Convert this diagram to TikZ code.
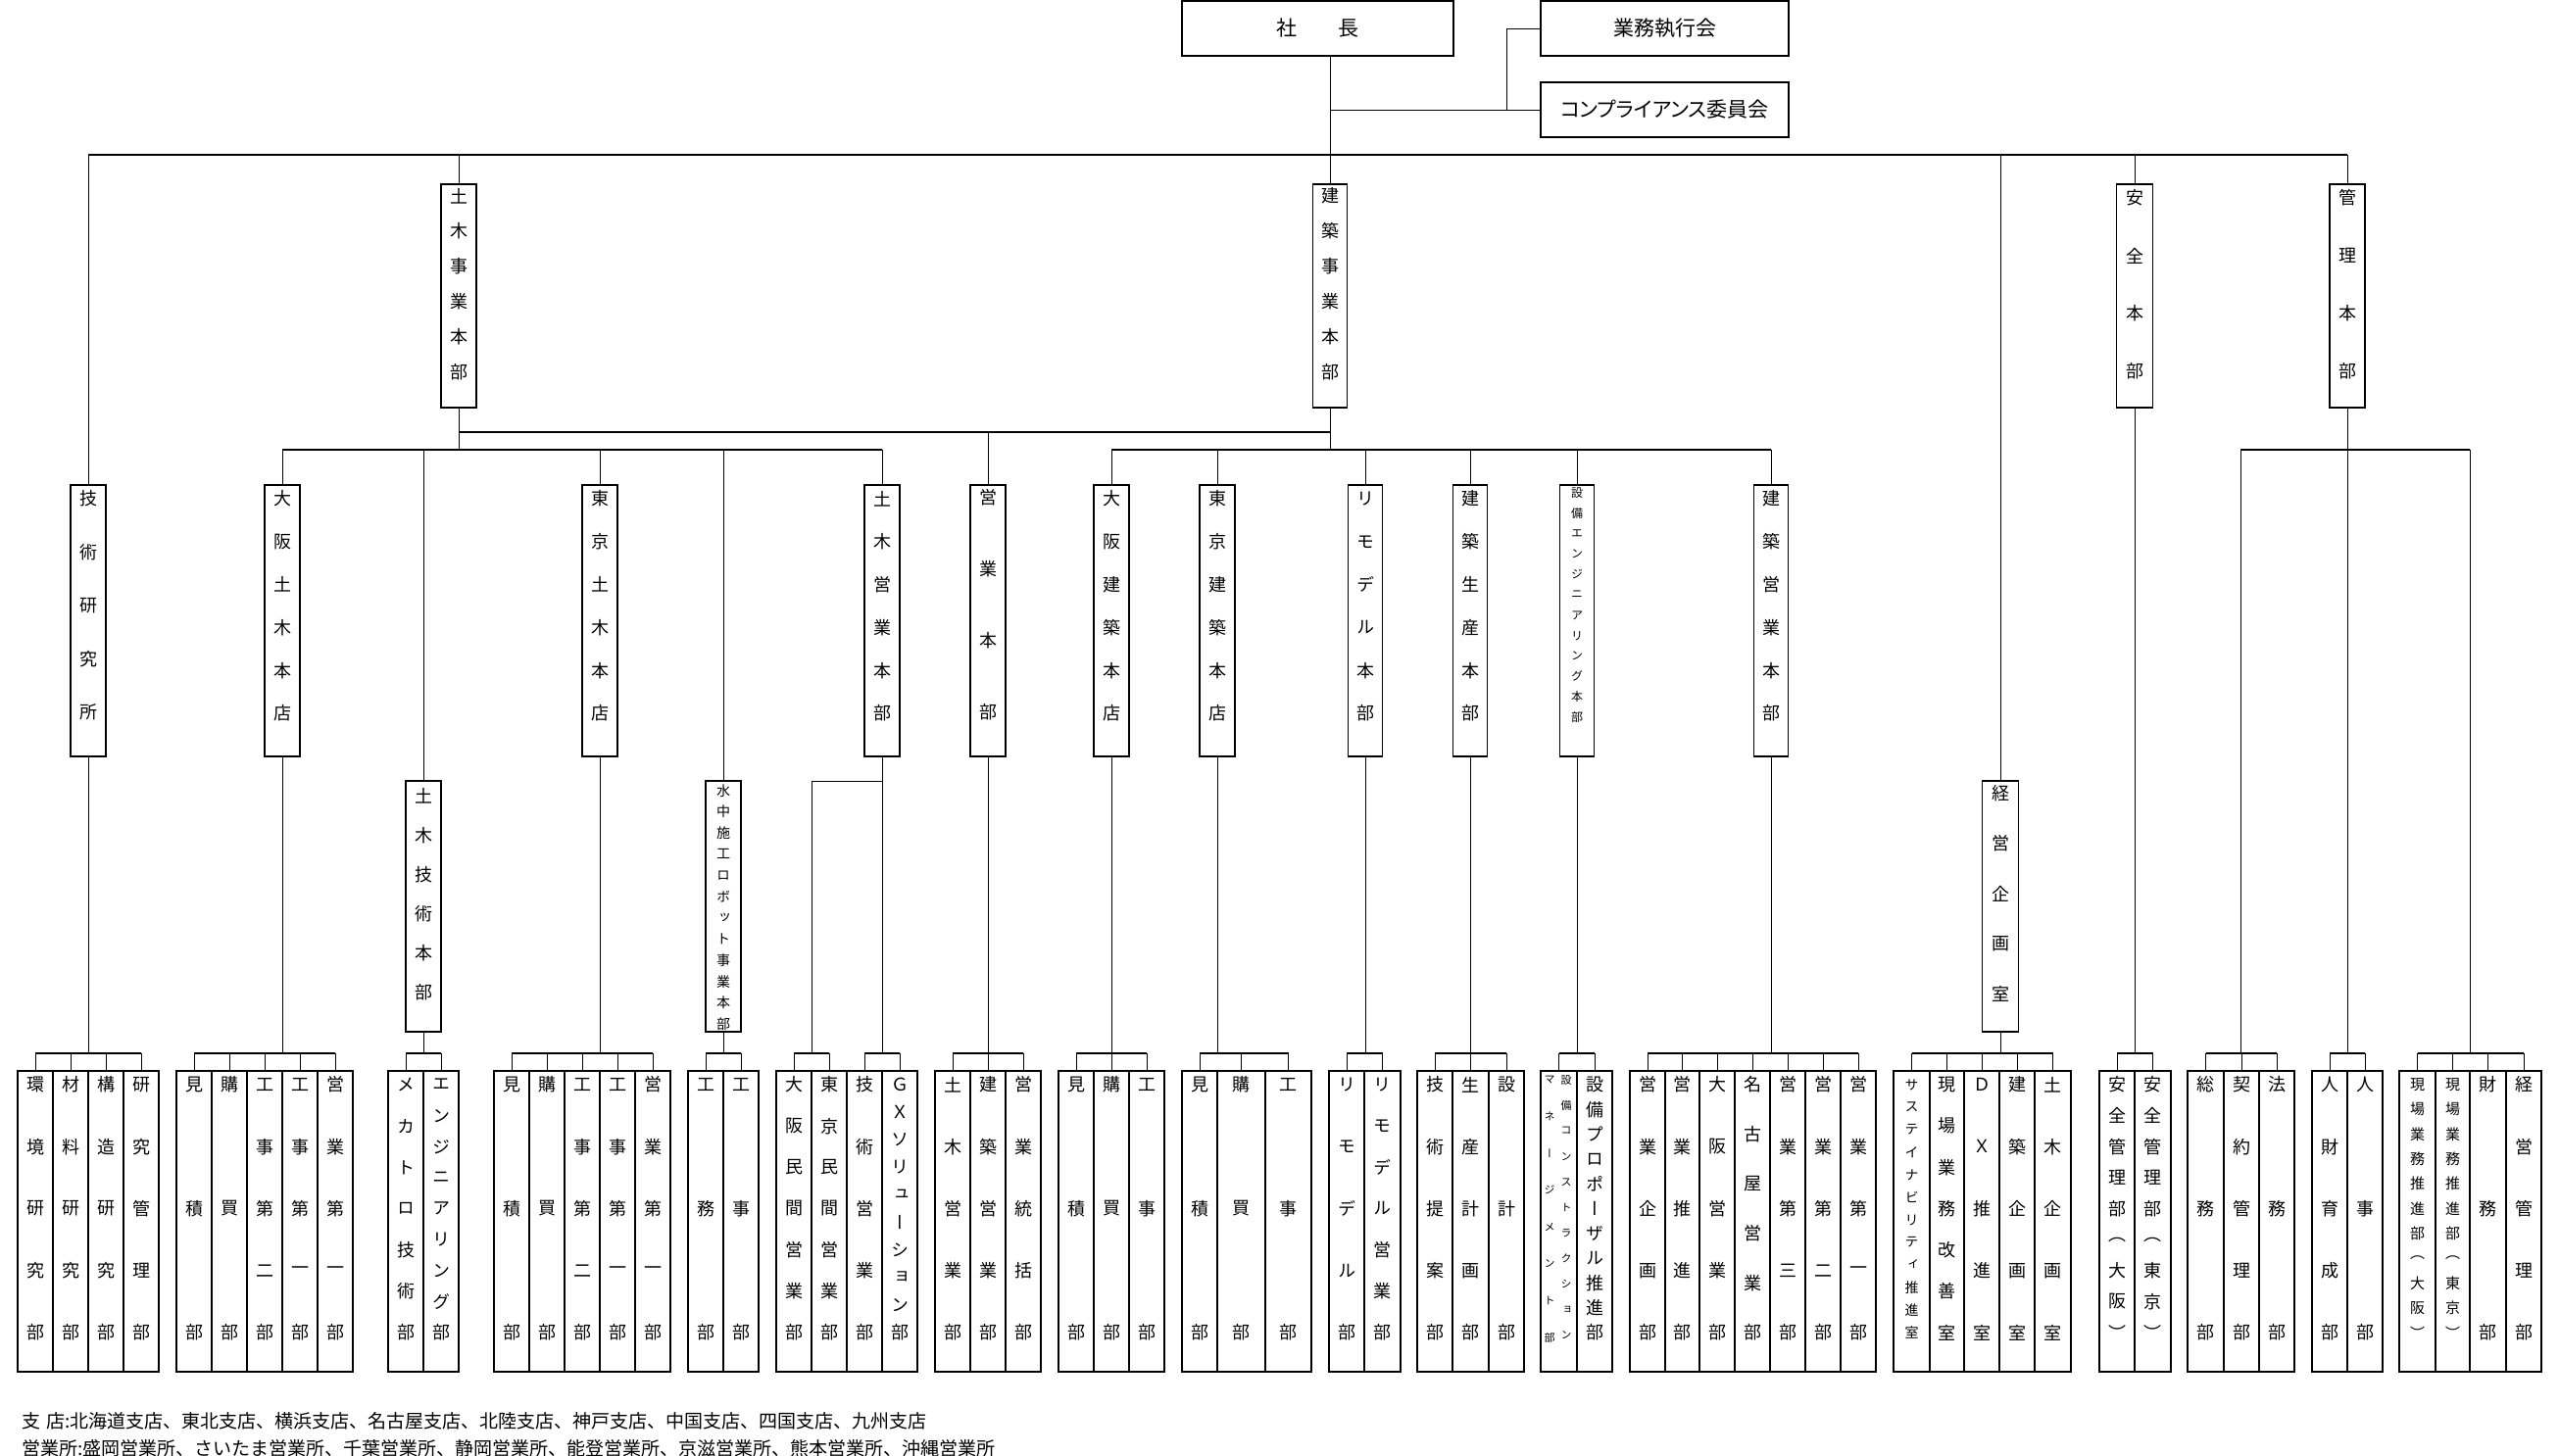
\documentclass[tikz,border=0pt]{standalone}
\usepackage{fontspec}
\setmainfont{Noto Sans CJK JP}
\newfontfamily\jpv[Script=CJK,RawFeature=+vert]{Noto Sans CJK JP}
\newfontfamily\jpp[RawFeature=+palt]{Noto Sans CJK JP}
\tikzset{
  box/.style={draw, line width=0.8pt, inner sep=0pt, outer sep=0pt},
  ln/.style={line width=0.5pt},
  comb/.style={line width=0.8pt},
  bus/.style={line width=1pt},
  ch/.style={inner sep=0pt, outer sep=0pt},
}
\newcommand\mkbox[5]{\node[box, minimum width={(#5)*0.5pt}, minimum height={((#4)-(#3))*0.5pt}] (#1) at ({#2},{((#3)+(#4))/2}) {};}
\newcommand\mylab[7]{%
  \foreach \mychar [count=\i] in {#6} {
    \node[ch, font=\jpv\fontsize{#7}{#7}\selectfont] (#1-\i) at ({#2},{#3+(\i-1)*((#4)-(#3))/((#5)-1)}) {\mychar};
  }}
\newcommand\leaf[6][9]{%
  \mkbox{#2}{((#3)+(#4))/2}{1093}{1400}{(#4)-(#3)}
  \mylab{#2}{((#3)+(#4))/2}{1107}{1360}{#5}{#6}{#1}
  \draw[ln] (#2.north |- yb) -- (#2.north);
}
\begin{document}
\begin{tikzpicture}[x=0.5pt,y=-0.5pt]
\useasboundingbox (0,0) rectangle (2611,1485);
\coordinate (ytop) at (0,158);
\coordinate (y441) at (0,441);
\coordinate (y459) at (0,459);
\coordinate (y797) at (0,797);
\coordinate (yb) at (0,1075);
\coordinate (brx) at (1537,0);

% ---------- top ----------
\node[box, minimum width=138.5pt, minimum height=28pt, font=\fontsize{10.5}{10.5}\selectfont] (pres) at (1344.5,29) {社\hspace{2em}長};
\node[box, minimum width=126.5pt, minimum height=28pt, font=\fontsize{10.5}{10.5}\selectfont] (gyomu) at (1698.5,29) {業務執行会};
\node[box, minimum width=126.5pt, minimum height=28pt, font=\jpp\fontsize{10.5}{10.5}\selectfont] (comp) at (1698.5,112) {コンプライアンス委員会};

% ---------- level 1 ----------
\mkbox{dobokuHQ}{468}{188}{416}{36}
\mylab{dobokuHQ}{468}{200}{380}{6}{土,木,事,業,本,部}{9}
\mkbox{kenHQ}{1357}{188}{416}{35}
\mylab{kenHQ}{1357}{200}{380}{6}{建,築,事,業,本,部}{9}
\mkbox{anzen}{2178}{188}{416}{37}
\mylab{anzen}{2178}{202}{379}{4}{安,全,本,部}{9}
\mkbox{kanri}{2395}{188}{416}{36}
\mylab{kanri}{2395}{202}{379}{4}{管,理,本,部}{9}

% ---------- level 2 ----------
\mkbox{gijutsu}{90}{495}{772}{36}
\mylab{gijutsu}{90}{509}{727}{5}{技,術,研,究,所}{9}
\mkbox{osakaDoboku}{288}{495}{772}{36}
\mylab{osakaDoboku}{288}{509}{728}{6}{大,阪,土,木,本,店}{9}
\mkbox{tokyoDoboku}{612}{495}{772}{36}
\mylab{tokyoDoboku}{612}{509}{728}{6}{東,京,土,木,本,店}{9}
\mkbox{dobokuEigyo}{900}{495}{772}{36}
\mylab{dobokuEigyo}{900}{509}{728}{6}{土,木,営,業,本,部}{9}
\mkbox{eigyo}{1008}{495}{772}{36}
\mylab{eigyo}{1008}{508}{727}{4}{営,業,本,部}{9}
\mkbox{osakaKen}{1134}{495}{772}{36}
\mylab{osakaKen}{1134}{509}{728}{6}{大,阪,建,築,本,店}{9}
\mkbox{tokyoKen}{1242}{495}{772}{36}
\mylab{tokyoKen}{1242}{509}{728}{6}{東,京,建,築,本,店}{9}
\mkbox{remodel}{1393}{495}{772}{35}
\mylab{remodel}{1393}{509}{728}{6}{リ,モ,デ,ル,本,部}{9}
\mkbox{seisan}{1500}{495}{772}{35}
\mylab{seisan}{1500}{509}{728}{6}{建,築,生,産,本,部}{9}
\mkbox{setsubi}{1609}{495}{772}{35}
\mylab{setsubi}{1609}{503}{732}{12}{設,備,エ,ン,ジ,ニ,ア,リ,ン,グ,本,部}{6}
\mkbox{kenEigyo}{1807}{495}{772}{35}
\mylab{kenEigyo}{1807}{509}{728}{6}{建,築,営,業,本,部}{9}

% ---------- level 3 ----------
\mkbox{dobokuGijutsu}{432}{797}{1053}{36}
\mylab{dobokuGijutsu}{432}{812}{1013}{6}{土,木,技,術,本,部}{9}
\mkbox{suichu}{738}{797}{1053}{36}
\mylab{suichu}{738}{807}{1045}{12}{水,中,施,工,ロ,ボ,ッ,ト,事,業,本,部}{7}
\mkbox{keiei}{2041}{797}{1053}{37}
\mylab{keiei}{2041}{810}{1014}{5}{経,営,企,画,室}{9}

% ---------- connectors: top ----------
\draw[ln] (pres.south -| kenHQ.north) -- (kenHQ.north);
\draw[ln] (kenHQ.north |- comp.west) -- (comp.west);
\draw[ln] (brx |- comp.west) |- (gyomu.west);
\draw[bus] (gijutsu.north |- ytop) -- (kanri.north |- ytop);
\draw[ln] (gijutsu.north |- ytop) -- (gijutsu.north);
\draw[ln] (dobokuHQ.north |- ytop) -- (dobokuHQ.north);
\draw[ln] (keiei.north |- ytop) -- (keiei.north);
\draw[ln] (anzen.north |- ytop) -- (anzen.north);
\draw[ln] (kanri.north |- ytop) -- (kanri.north);

% ---------- connectors: level 1 -> 2 ----------
\draw[ln] (dobokuHQ.south) -- (dobokuHQ.south |- y459);
\draw[ln] (kenHQ.south) -- (kenHQ.south |- y459);
\draw[bus] (dobokuHQ.south |- y441) -- (kenHQ.south |- y441);
\draw[ln] (eigyo.north |- y441) -- (eigyo.north);
\draw[bus] (osakaDoboku.north |- y459) -- (dobokuEigyo.north |- y459);
\draw[bus] (osakaKen.north |- y459) -- (kenEigyo.north |- y459);
\foreach \b in {osakaDoboku,dobokuGijutsu,tokyoDoboku,suichu,dobokuEigyo,osakaKen,tokyoKen,remodel,seisan,setsubi,kenEigyo}
  \draw[ln] (\b.north |- y459) -- (\b.north);
\coordinate (kL) at (2286,459);
\coordinate (kR) at (2520,459);
\draw[bus] (kL) -- (kR);

% ---------- connectors: down to leaf combs ----------
\foreach \b in {gijutsu,osakaDoboku,dobokuGijutsu,tokyoDoboku,suichu,dobokuEigyo,eigyo,osakaKen,tokyoKen,remodel,seisan,setsubi,kenEigyo,keiei,anzen,kanri}
  \draw[ln] (\b.south) -- (\b.south |- yb);
\coordinate (fB) at (828,1075);
\draw[ln] (dobokuEigyo.south |- y797) -- (fB |- y797) -- (fB);
\draw[ln] (kL) -- (kL |- yb);
\draw[ln] (kR) -- (kR |- yb);

% ---------- leaves ----------
\leaf{a1}{18}{54}{5}{環,境,研,究,部}
\leaf{a2}{54}{90}{5}{材,料,研,究,部}
\leaf{a3}{90}{126}{5}{構,造,研,究,部}
\leaf{a4}{126}{162}{5}{研,究,管,理,部}
\draw[comb] (a1.north |- yb) -- (a4.north |- yb);

\leaf{b1}{180}{216}{3}{見,積,部}
\leaf{b2}{216}{252}{3}{購,買,部}
\leaf{b3}{252}{288}{5}{工,事,第,二,部}
\leaf{b4}{288}{324}{5}{工,事,第,一,部}
\leaf{b5}{324}{360}{5}{営,業,第,一,部}
\draw[comb] (b1.north |- yb) -- (b5.north |- yb);

\leaf{c1}{396}{432}{7}{メ,カ,ト,ロ,技,術,部}
\leaf{c2}{432}{468}{9}{エ,ン,ジ,ニ,ア,リ,ン,グ,部}
\draw[comb] (c1.north |- yb) -- (c2.north |- yb);

\leaf{d1}{504}{540}{3}{見,積,部}
\leaf{d2}{540}{576}{3}{購,買,部}
\leaf{d3}{576}{612}{5}{工,事,第,二,部}
\leaf{d4}{612}{648}{5}{工,事,第,一,部}
\leaf{d5}{648}{684}{5}{営,業,第,一,部}
\draw[comb] (d1.north |- yb) -- (d5.north |- yb);

\leaf{e1}{702}{738}{3}{工,務,部}
\leaf{e2}{738}{774}{3}{工,事,部}
\draw[comb] (e1.north |- yb) -- (e2.north |- yb);

\leaf{f1}{792}{828}{7}{大,阪,民,間,営,業,部}
\leaf{f2}{828}{864}{7}{東,京,民,間,営,業,部}
\leaf{f3}{864}{900}{5}{技,術,営,業,部}
\leaf{f4}{900}{936}{10}{Ｇ,Ｘ,ソ,リ,ュ,ー,シ,ョ,ン,部}
\draw[comb] (f1.north |- yb) -- (f2.north |- yb);
\draw[comb] (f3.north |- yb) -- (f4.north |- yb);

\leaf{g1}{954}{990}{5}{土,木,営,業,部}
\leaf{g2}{990}{1026}{5}{建,築,営,業,部}
\leaf{g3}{1026}{1062}{5}{営,業,統,括,部}
\draw[comb] (g1.north |- yb) -- (g3.north |- yb);

\leaf{h1}{1080}{1116}{3}{見,積,部}
\leaf{h2}{1116}{1152}{3}{購,買,部}
\leaf{h3}{1152}{1188}{3}{工,事,部}
\draw[comb] (h1.north |- yb) -- (h3.north |- yb);

\leaf{i1}{1206}{1242}{3}{見,積,部}
\leaf{i2}{1242}{1291}{3}{購,買,部}
\leaf{i3}{1291}{1338}{3}{工,事,部}
\draw[comb] (i1.north |- yb) -- (i3.north |- yb);

\leaf{j1}{1356}{1392}{5}{リ,モ,デ,ル,部}
\leaf{j2}{1392}{1429}{7}{リ,モ,デ,ル,営,業,部}
\draw[comb] (j1.north |- yb) -- (j2.north |- yb);

\leaf{k1}{1446}{1482}{5}{技,術,提,案,部}
\leaf{k2}{1482}{1519}{5}{生,産,計,画,部}
\leaf{k3}{1519}{1555}{3}{設,計,部}
\draw[comb] (k1.north |- yb) -- (k3.north |- yb);

\mkbox{l1}{1590.5}{1093}{1400}{37}
\mylab{l1a}{1598}{1102}{1363}{11}{設,備,コ,ン,ス,ト,ラ,ク,シ,ョ,ン}{5.5}
\mylab{l1b}{1581}{1102}{1365}{8}{マ,ネ,ー,ジ,メ,ン,ト,部}{5.5}
\draw[ln] (l1.north |- yb) -- (l1.north);
\leaf{l2}{1609}{1645}{11}{設,備,プ,ロ,ポ,ー,ザ,ル,推,進,部}
\draw[comb] (l1.north |- yb) -- (l2.north |- yb);

\leaf{m1}{1663}{1699}{5}{営,業,企,画,部}
\leaf{m2}{1699}{1734}{5}{営,業,推,進,部}
\leaf{m3}{1734}{1770}{5}{大,阪,営,業,部}
\leaf{m4}{1770}{1806}{6}{名,古,屋,営,業,部}
\leaf{m5}{1806}{1842}{5}{営,業,第,三,部}
\leaf{m6}{1842}{1878}{5}{営,業,第,二,部}
\leaf{m7}{1878}{1914}{5}{営,業,第,一,部}
\draw[comb] (m1.north |- yb) -- (m7.north |- yb);

\leaf[7]{n1}{1932}{1969}{12}{サ,ス,テ,イ,ナ,ビ,リ,テ,ィ,推,進,室}
\leaf{n2}{1969}{2004}{7}{現,場,業,務,改,善,室}
\leaf{n3}{2004}{2040}{5}{Ｄ,Ｘ,推,進,室}
\leaf{n4}{2040}{2076}{5}{建,築,企,画,室}
\leaf{n5}{2076}{2113}{5}{土,木,企,画,室}
\draw[comb] (n1.north |- yb) -- (n5.north |- yb);

\leaf{o1}{2142}{2178}{9}{安,全,管,理,部,（,大,阪,）}
\leaf{o2}{2178}{2215}{9}{安,全,管,理,部,（,東,京,）}
\draw[comb] (o1.north |- yb) -- (o2.north |- yb);

\leaf{p1}{2232}{2269}{3}{総,務,部}
\leaf{p2}{2269}{2305}{5}{契,約,管,理,部}
\leaf{p3}{2305}{2341}{3}{法,務,部}
\draw[comb] (p1.north |- yb) -- (p3.north |- yb);

\leaf{q1}{2359}{2395}{5}{人,財,育,成,部}
\leaf{q2}{2395}{2431}{3}{人,事,部}
\draw[comb] (q1.north |- yb) -- (q2.north |- yb);

\leaf[7.5]{r1}{2448}{2485}{11}{現,場,業,務,推,進,部,（,大,阪,）}
\leaf[7.5]{r2}{2485}{2520}{11}{現,場,業,務,推,進,部,（,東,京,）}
\leaf{r3}{2520}{2557}{3}{財,務,部}
\leaf{r4}{2557}{2593}{5}{経,営,管,理,部}
\draw[comb] (r1.north |- yb) -- (r4.north |- yb);

% ---------- footer ----------
\node[anchor=west, inner sep=0pt, font=\fontsize{9.5}{9.5}\selectfont] (foot1) at (22,1450)
  {支\hspace{0.3em}店:北海道支店、東北支店、横浜支店、名古屋支店、北陸支店、神戸支店、中国支店、四国支店、九州支店};
\node[anchor=west, inner sep=0pt, font=\fontsize{9.5}{9.5}\selectfont] (foot2) at (22,1478)
  {営業所:盛岡営業所、さいたま営業所、千葉営業所、静岡営業所、能登営業所、京滋営業所、熊本営業所、沖縄営業所};
\end{tikzpicture}
\end{document}
